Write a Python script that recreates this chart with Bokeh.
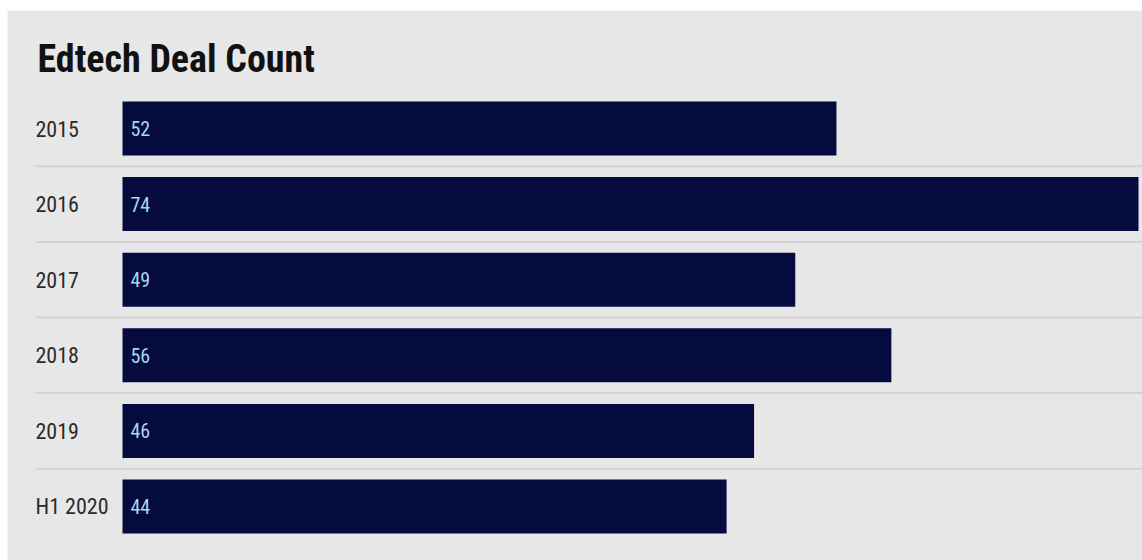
from bokeh.plotting import figure
from bokeh.models import Range1d, ColumnDataSource
from bokeh.core.properties import value
from bokeh.embed import file_html
from bokeh.resources import INLINE

# Edtech deal counts per period
periods = ["2015", "2016", "2017", "2018", "2019", "H1 2020"]
deal_counts = [52, 74, 49, 56, 46, 44]
chart_title = "Edtech Deal Count"

W, H = 1142, 560
LEFT, TOP = 7, 10                 # white margin around the grey panel
BAR_X0 = 122                      # pixel where bars start
BAR_X1 = 1138                     # pixel where the longest bar ends
ROW_Y0 = 128                      # pixel centre of the first row
ROW_STEP = 75.6                   # pixel distance between rows
LABEL_X = 35                      # pixel where period labels start
FONT = value("Roboto Condensed")

scale = (BAR_X1 - BAR_X0) / max(deal_counts)   # pixels per deal


def px_to_x(px):
    return (px - BAR_X0) / scale


def px_to_y(py):
    return -(py - ROW_Y0) / ROW_STEP


rows = [-i for i in range(len(periods))]
src = ColumnDataSource(dict(
    period=periods,
    count=deal_counts,
    y=rows,
    label=[str(c) for c in deal_counts],
))

p = figure(
    width=W, height=H,
    x_range=Range1d(px_to_x(LEFT), px_to_x(W)),
    y_range=Range1d(px_to_y(H), px_to_y(TOP)),
    output_backend="svg", toolbar_location=None,
    min_border_left=LEFT, min_border_top=TOP,
    min_border_right=0, min_border_bottom=0,
)
p.background_fill_color = "#e7e7e7"
p.border_fill_color = "#ffffff"
p.outline_line_color = None
p.axis.visible = False
p.grid.visible = False

# row separators
sep_y = [r - 0.5 for r in rows[:-1]]
p.segment(x0=px_to_x(LABEL_X), x1=px_to_x(W), y0=sep_y, y1=sep_y,
          line_color="#d3d3d3", line_width=2)

# bars
p.hbar(y="y", left=0, right="count", height=54 / ROW_STEP, source=src,
       fill_color="#050b3f", line_color=None)

# period labels
p.text(x=px_to_x(LABEL_X), y="y", text="period", source=src,
       text_font=FONT, text_font_size="22px",
       text_color="#2b2b2b", text_align="left", text_baseline="middle")

# value labels inside bars
p.text(x=0, y="y", text="label", source=src, x_offset=8,
       text_font=FONT, text_font_size="20px",
       text_color="#a6d8f0", text_align="left", text_baseline="middle")

# title
p.text(x=[px_to_x(37)], y=[px_to_y(58)], text=[chart_title],
       text_font=FONT, text_font_style="bold",
       text_font_size="38px", text_color="#111111",
       text_align="left", text_baseline="middle")

open("out.html", "w").write(file_html(p, INLINE))
